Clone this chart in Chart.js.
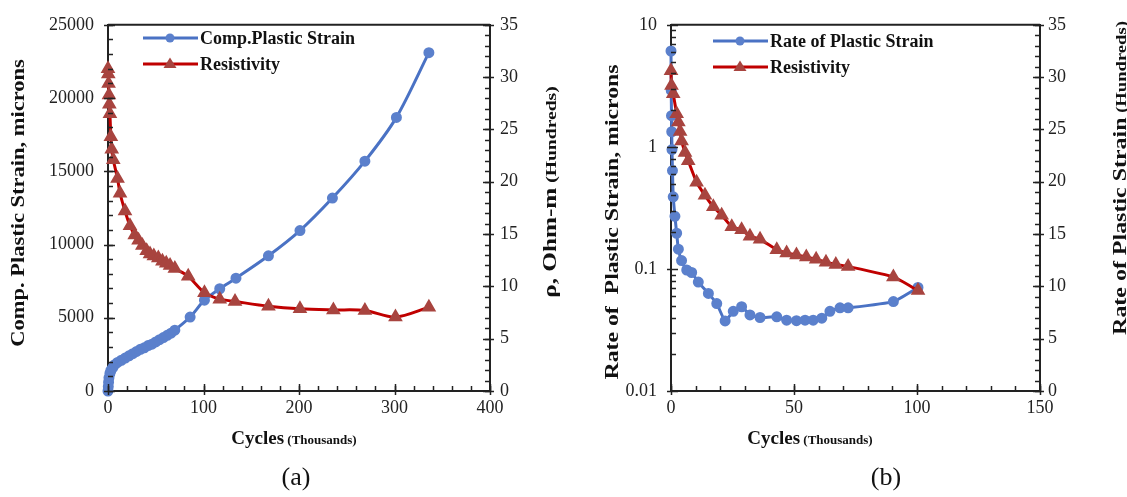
<!DOCTYPE html>
<html lang="en">
<head>
    <meta charset="UTF-8">
    <title>Plastic Strain and Resistivity</title>
    <style>
        body { margin: 0; background: #fff; }
        .panel { position: absolute; top: 0; height: 497px; }
        #panelA { left: 0; width: 563px; }
        #panelB { left: 563px; width: 564px; }
    </style>
</head>
<body>
<div class="panel" id="panelA"><canvas id="strainChart" width="563" height="497"></canvas></div>
<div class="panel" id="panelB"><canvas id="rateChart" width="564" height="497"></canvas></div>

<script src="https://cdn.jsdelivr.net/npm/chart.js"></script>
<script>
    // (a) compressive plastic strain vs cycles (thousands)
    const strainCycles = [0, 0.3, 0.6, 1, 2, 3, 5, 7, 10, 14, 18, 22, 26, 30, 34, 38, 42, 46, 50, 54, 58, 62, 66, 70, 86, 101, 117, 134, 168, 201, 235, 269, 302, 336];
    const strainMicrons = [0, 300, 600, 900, 1200, 1400, 1600, 1800, 1950, 2100, 2250, 2400, 2550, 2700, 2850, 2950, 3100, 3200, 3350, 3500, 3650, 3800, 3950, 4150, 5050, 6200, 6980, 7700, 9230, 10950, 13170, 15690, 18680, 23100];

    // (a) resistivity, ohm-m (hundreds)
    const resCyclesA = [0, 0.3, 0.6, 1, 1.4, 2, 3, 3.9, 5.5, 10, 12.6, 17.8, 23, 28, 32, 36, 40.5, 44, 48, 52.7, 57, 61, 65, 70, 84, 101, 117, 133, 168, 201, 236, 269, 301, 336];
    const resValuesA = [30.8, 30.3, 29.4, 28.3, 27.4, 26.5, 24.3, 23.1, 22.1, 20.3, 18.9, 17.2, 15.8, 14.9, 14.4, 13.9, 13.4, 13.1, 12.9, 12.7, 12.4, 12.2, 12.0, 11.7, 10.96, 9.4, 8.78, 8.56, 8.1, 7.85, 7.75, 7.7, 7.07, 8.0];

    // (b) rate of plastic strain vs cycles (thousands)
    const rateCycles = [0, 0.1, 0.2, 0.3, 0.4, 0.6, 0.9, 1.6, 2.3, 3, 4.3, 6.4, 8.4, 11.1, 15.2, 18.6, 22, 25.3, 28.7, 32.1, 36.2, 43, 47, 51, 54.5, 57.8, 61.3, 64.6, 68.7, 72, 90.4, 100.4];
    const rateMicrons = [6.1, 2.9, 1.8, 1.33, 0.95, 0.64, 0.39, 0.27, 0.196, 0.145, 0.117, 0.098, 0.0935, 0.078, 0.063, 0.052, 0.0375, 0.045, 0.049, 0.042, 0.040, 0.0405, 0.038, 0.0377, 0.038, 0.038, 0.0395, 0.045, 0.048, 0.048, 0.054, 0.0705];

    // (b) resistivity, ohm-m (hundreds)
    const resCyclesB = [0, 0.2, 0.9, 2.3, 3, 3.7, 4.3, 5.7, 7, 10.4, 13.8, 17.2, 20.6, 24.7, 28.7, 32.1, 36.2, 43, 47, 51, 55, 59, 63, 67, 72, 90.4, 100.4];
    const resValuesB = [30.6, 29.2, 28.4, 26.5, 25.7, 24.8, 23.9, 22.8, 22.0, 19.95, 18.7, 17.6, 16.8, 15.7, 15.4, 14.8, 14.5, 13.5, 13.2, 13.0, 12.8, 12.6, 12.3, 12.1, 11.9, 10.9, 9.6];

    const rateTickValues = [0.01, 0.1, 1, 10];

    const BLUE = '#4a72c4';
    const BLUE_PT = '#5b80cc';
    const RED = '#c00000';
    const RED_PT = '#a8443f';
    const SERIF = "'Liberation Serif', 'Times New Roman', serif";

    function toPoints(xs, ys) {
        return xs.map((x, i) => ({ x: x, y: ys[i] }));
    }

    // draw a row of text pieces with different sizes, centred on (cx, cy)
    // rotated titles are stretched along the text, like the original figure
    function drawParts(ctx, parts, cx, cy, rotate, stretch) {
        ctx.save();
        ctx.translate(cx, cy);
        if (rotate) ctx.rotate(-Math.PI / 2);
        ctx.scale(stretch || 1, 1);
        let total = 0;
        parts.forEach(p => {
            ctx.font = p.weight + ' ' + p.size + 'px ' + SERIF;
            p.w = ctx.measureText(p.text).width;
            total += p.w;
        });
        let x = -total / 2;
        ctx.fillStyle = '#111';
        ctx.textBaseline = 'alphabetic';
        ctx.textAlign = 'left';
        parts.forEach(p => {
            ctx.font = p.weight + ' ' + p.size + 'px ' + SERIF;
            ctx.fillText(p.text, x, 6);
            x += p.w;
        });
        ctx.restore();
    }

    function minorValues(scale, step) {
        const out = [];
        if (scale.type === 'logarithmic') {
            for (let e = -2; e < 1; e++) {
                for (let k = 2; k <= 9; k++) out.push(k * Math.pow(10, e));
            }
            return out;
        }
        for (let v = scale.min; v <= scale.max + 1e-9; v += step) out.push(v);
        return out;
    }

    // ticks pointing into the plot, titles, legend, caption
    const decorations = {
        id: 'decorations',
        afterDraw(chart, args, opts) {
            const ctx = chart.ctx;
            const area = chart.chartArea;
            ctx.save();
            ctx.strokeStyle = '#222';
            ctx.lineWidth = 1.5;

            Object.keys(opts.minor).forEach(id => {
                const scale = chart.scales[id];
                const majors = scale.ticks.map(t => t.value);
                const minors = minorValues(scale, opts.minor[id]);
                const all = minors.map(v => ({ v: v, major: false }))
                    .concat(majors.map(v => ({ v: v, major: true })));
                all.forEach(t => {
                    const p = Math.round(scale.getPixelForValue(t.v)) + 0.5;
                    const inLen = t.major ? 7 : 5;
                    const outLen = t.major ? 4 : 0;
                    ctx.beginPath();
                    if (id === 'x') {
                        ctx.moveTo(p, area.bottom - inLen);
                        ctx.lineTo(p, area.bottom + outLen);
                    } else if (scale.position === 'left') {
                        ctx.moveTo(area.left + inLen, p);
                        ctx.lineTo(area.left - outLen, p);
                    } else {
                        ctx.moveTo(area.right - inLen, p);
                        ctx.lineTo(area.right + outLen, p);
                    }
                    ctx.stroke();
                });
            });

            // top frame line
            ctx.lineWidth = 2;
            ctx.beginPath();
            ctx.moveTo(area.left, area.top);
            ctx.lineTo(area.right, area.top);
            ctx.stroke();

            // axis titles
            opts.titles.forEach(t => drawParts(ctx, t.parts, t.x, t.y, t.rotate, t.stretch));

            // legend
            chart.data.datasets.forEach((ds, i) => {
                const row = opts.legend;
                const y = row.y + i * row.gap;
                ctx.strokeStyle = ds.borderColor;
                ctx.lineWidth = 3;
                ctx.beginPath();
                ctx.moveTo(row.x, y);
                ctx.lineTo(row.x + 55, y);
                ctx.stroke();
                ctx.fillStyle = ds.pointBackgroundColor;
                ctx.beginPath();
                if (ds.pointStyle === 'triangle') {
                    const cx = row.x + 27, r = 6.5;
                    ctx.moveTo(cx, y - r);
                    ctx.lineTo(cx + r, y + r * 0.6);
                    ctx.lineTo(cx - r, y + r * 0.6);
                    ctx.closePath();
                } else {
                    ctx.arc(row.x + 27, y, 4.5, 0, Math.PI * 2);
                }
                ctx.fill();
                ctx.fillStyle = '#111';
                ctx.font = 'bold 18px ' + SERIF;
                ctx.textBaseline = 'middle';
                ctx.textAlign = 'left';
                ctx.fillText(ds.label, row.x + 57, y + 1);
            });

            // caption
            ctx.fillStyle = '#111';
            ctx.font = '26px ' + SERIF;
            ctx.textAlign = 'center';
            ctx.textBaseline = 'middle';
            ctx.fillText(opts.caption.text, opts.caption.x, opts.caption.y);
            ctx.restore();
        }
    };

    function tickFont() {
        return { family: SERIF, size: 18 };
    }

    function axisBase(extra) {
        return Object.assign({
            grid: { display: false, drawTicks: false },
            border: { display: true, color: '#222', width: 2 },
        }, extra);
    }

    function lineDataset(label, points, isBlue, tension) {
        return {
            label: label,
            data: points,
            borderColor: isBlue ? BLUE : RED,
            backgroundColor: isBlue ? BLUE_PT : RED_PT,
            pointBackgroundColor: isBlue ? BLUE_PT : RED_PT,
            pointBorderColor: isBlue ? BLUE_PT : RED_PT,
            pointStyle: isBlue ? 'circle' : 'triangle',
            pointRadius: isBlue ? 4 : 5.5,
            borderWidth: 3,
            tension: tension,
            clip: false,
            yAxisID: isBlue ? 'y' : 'y2',
            order: isBlue ? 2 : 1
        };
    }

    Chart.defaults.font.family = SERIF;
    Chart.defaults.color = '#222';

    const plain = v => String(v);

    const strainChart = new Chart(document.getElementById('strainChart'), {
        type: 'line',
        data: {
            datasets: [
                lineDataset('Comp.Plastic Strain', toPoints(strainCycles, strainMicrons), true, 0.3),
                lineDataset('Resistivity', toPoints(resCyclesA, resValuesA), false, 0.3)
            ]
        },
        options: {
            responsive: false,
            animation: false,
            layout: { padding: { top: 15, left: 0, right: 0, bottom: 0 } },
            plugins: {
                legend: { display: false },
                tooltip: { enabled: false },
                decorations: {
                    minor: { x: 20, y: 1000, y2: 1 },
                    titles: [
                        { parts: [{ text: 'Comp. Plastic Strain, microns', size: 18, weight: 'bold' }], x: 18, y: 203, rotate: true, stretch: 1.25 },
                        { parts: [{ text: 'ρ, Ohm-m', size: 18, weight: 'bold' }, { text: ' (Hundreds)', size: 14, weight: 'bold' }], x: 550, y: 192, rotate: true, stretch: 1.4 },
                        { parts: [{ text: 'Cycles', size: 19, weight: 'bold' }, { text: ' (Thousands)', size: 13, weight: 'bold' }], x: 294, y: 438, rotate: false }
                    ],
                    legend: { x: 143, y: 38, gap: 26 },
                    caption: { text: '(a)', x: 296, y: 478 }
                }
            },
            scales: {
                x: axisBase({
                    type: 'linear', min: 0, max: 400,
                    ticks: { stepSize: 100, font: tickFont(), padding: 6, maxRotation: 0, callback: plain },
                    afterFit: s => { s.height = 106; }
                }),
                y: axisBase({
                    type: 'linear', position: 'left', min: 0, max: 25000,
                    ticks: { stepSize: 5000, font: tickFont(), padding: 14, callback: plain },
                    afterFit: s => { s.width = 108; }
                }),
                y2: axisBase({
                    type: 'linear', position: 'right', min: 0, max: 35,
                    ticks: { stepSize: 5, font: tickFont(), padding: 10, callback: plain },
                    afterFit: s => { s.width = 73; }
                })
            }
        },
        plugins: [decorations]
    });

    const rateChart = new Chart(document.getElementById('rateChart'), {
        type: 'line',
        data: {
            datasets: [
                lineDataset('Rate of Plastic Strain', toPoints(rateCycles, rateMicrons), true, 0.15),
                lineDataset('Resistivity', toPoints(resCyclesB, resValuesB), false, 0.15)
            ]
        },
        options: {
            responsive: false,
            animation: false,
            layout: { padding: { top: 18, left: 0, right: 0, bottom: 0 } },
            plugins: {
                legend: { display: false },
                tooltip: { enabled: false },
                decorations: {
                    minor: { x: 10, y: 0, y2: 1 },
                    titles: [
                        { parts: [{ text: 'Rate of  Plastic Strain, microns', size: 18, weight: 'bold' }], x: 49, y: 222, rotate: true, stretch: 1.32 },
                        { parts: [{ text: 'Rate of Plastic Strain', size: 18, weight: 'bold' }, { text: ' (Hundreds)', size: 14, weight: 'bold' }], x: 557, y: 178, rotate: true, stretch: 1.33 },
                        { parts: [{ text: 'Cycles', size: 19, weight: 'bold' }, { text: ' (Thousands)', size: 13, weight: 'bold' }], x: 247, y: 438, rotate: false }
                    ],
                    legend: { x: 150, y: 41, gap: 26 },
                    caption: { text: '(b)', x: 323, y: 478 }
                }
            },
            scales: {
                x: axisBase({
                    type: 'linear', min: 0, max: 150,
                    ticks: { stepSize: 50, font: tickFont(), padding: 6, maxRotation: 0, callback: plain },
                    afterFit: s => { s.height = 106; }
                }),
                y: axisBase({
                    type: 'logarithmic', position: 'left', min: 0.01, max: 10,
                    afterBuildTicks: s => { s.ticks = rateTickValues.map(v => ({ value: v })); },
                    ticks: { font: tickFont(), padding: 14, callback: plain },
                    afterFit: s => { s.width = 108; }
                }),
                y2: axisBase({
                    type: 'linear', position: 'right', min: 0, max: 35,
                    ticks: { stepSize: 5, font: tickFont(), padding: 8, callback: plain },
                    afterFit: s => { s.width = 87; }
                })
            }
        },
        plugins: [decorations]
    });
</script>
</body>
</html>
